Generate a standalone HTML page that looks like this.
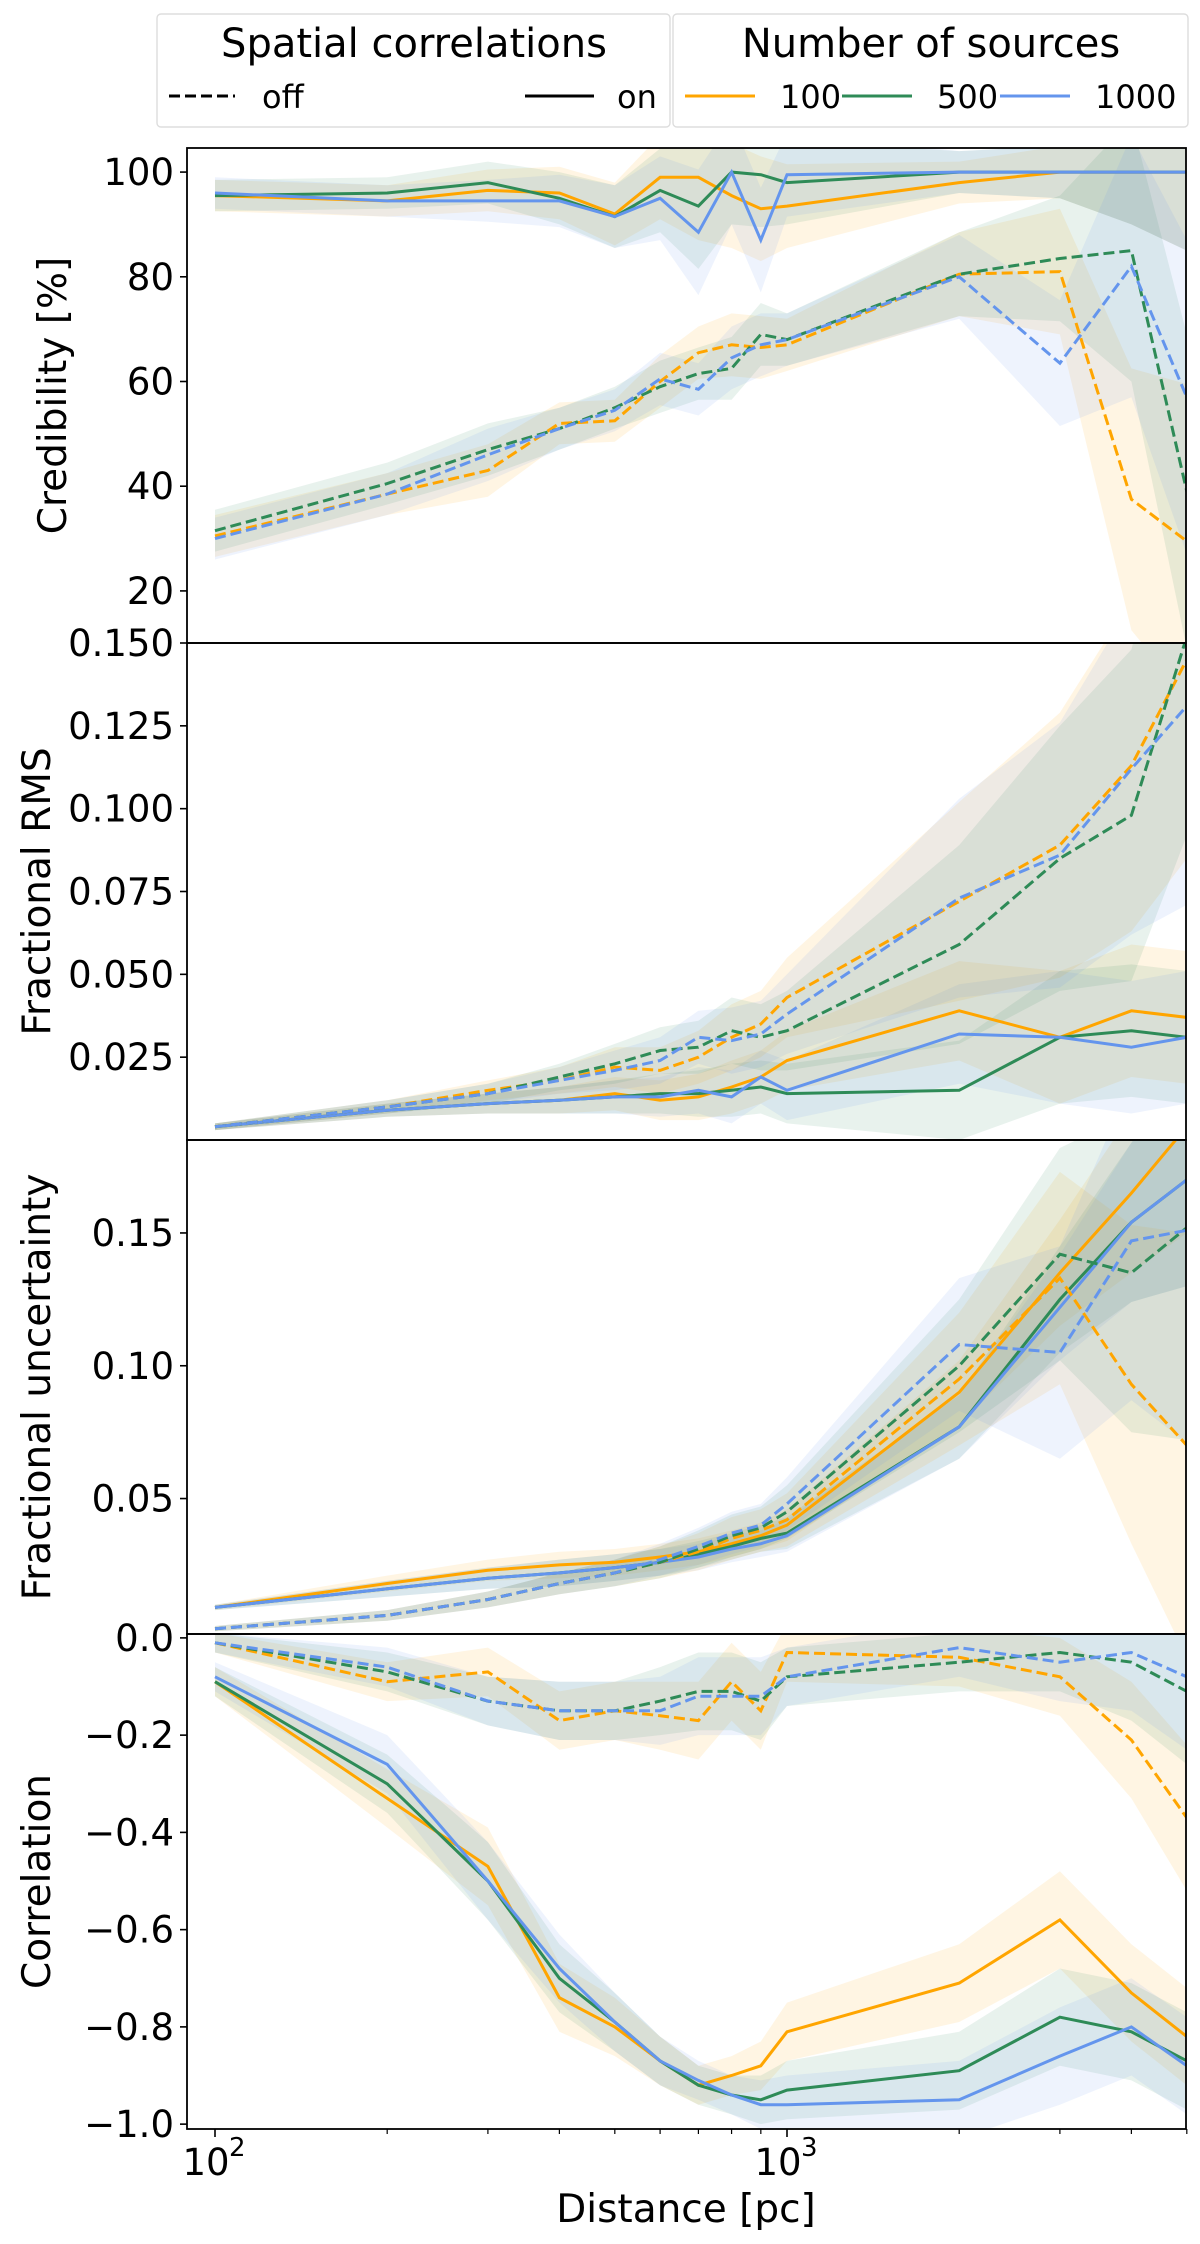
<!DOCTYPE html>
<html><head><meta charset="utf-8"><style>
html,body{margin:0;padding:0;background:#fff;}
svg{display:block;font-family:"DejaVu Sans","Liberation Sans",sans-serif;}
</style></head><body>
<svg id="chart" width="1200" height="2244" viewBox="0 0 1200 2244"></svg>
<script>
const distances=[100,200,300,400,500,600,700,800,900,1000,2000,3000,4000,5000];
// Panel 1: Credibility
const credOn100=[95.5,94.5,96.5,96,92,99,99,95.5,93,93.5,98,100,100,100];
const credOn500=[95.5,96,98,95,91.5,96.5,93.5,100,99.5,98,100,100,100,100];
const credOn1000=[96,94.5,94.5,94.5,91.5,95,88.5,100,87,99.5,100,100,100,100];
const credOff100=[30.5,38.5,43,52,52.5,60,65.5,67,66.5,67,80.5,81,37.5,29.5];
const credOff500=[31.5,40.5,47,51,55,59,61.5,62.5,69,68,80.5,83.5,85,39];
const credOff1000=[30,38.5,46,51,54.5,60.5,58.5,64.5,67,68,80,63.5,82,57];
const credBandOn=[3,3,4,5,6,8,12,10,10,8,4,5,10,15];
const credBandOff=[4,4,5,4,4,5,5,6,6,5,8,12,25,30];
// Panel 2: Fractional RMS
const rmsOff100=[0.004,0.010,0.015,0.018,0.022,0.021,0.025,0.031,0.035,0.043,0.072,0.089,0.113,0.145];
const rmsOff500=[0.004,0.010,0.014,0.019,0.023,0.027,0.028,0.033,0.031,0.033,0.059,0.085,0.098,0.152];
const rmsOff1000=[0.004,0.010,0.014,0.018,0.021,0.024,0.031,0.030,0.032,0.038,0.073,0.086,0.112,0.131];
const rmsOn100=[0.004,0.009,0.011,0.012,0.014,0.012,0.013,0.016,0.019,0.024,0.039,0.031,0.039,0.037];
const rmsOn500=[0.004,0.009,0.011,0.012,0.013,0.014,0.014,0.015,0.016,0.014,0.015,0.031,0.033,0.031];
const rmsOn1000=[0.004,0.009,0.011,0.012,0.013,0.013,0.015,0.013,0.019,0.015,0.032,0.031,0.028,0.031];
const rmsBandOn=[0.001,0.002,0.003,0.004,0.005,0.006,0.007,0.008,0.008,0.009,0.015,0.02,0.02,0.02];
const rmsBandOff=[0.001,0.002,0.003,0.004,0.006,0.007,0.008,0.01,0.01,0.012,0.03,0.04,0.05,0.06];
// Panel 3: Fractional uncertainty
const uncOn100=[0.009,0.018,0.023,0.025,0.026,0.028,0.030,0.033,0.036,0.040,0.090,0.135,0.165,0.19];
const uncOn500=[0.009,0.016,0.020,0.022,0.024,0.026,0.029,0.032,0.035,0.037,0.077,0.125,0.154,0.17];
const uncOn1000=[0.009,0.016,0.020,0.022,0.024,0.026,0.028,0.031,0.033,0.036,0.077,0.122,0.154,0.17];
const uncOff100=[0.001,0.006,0.012,0.018,0.022,0.026,0.030,0.035,0.038,0.042,0.095,0.133,0.093,0.070];
const uncOff500=[0.001,0.006,0.012,0.018,0.022,0.026,0.031,0.036,0.039,0.045,0.100,0.142,0.135,0.152];
const uncOff1000=[0.001,0.006,0.012,0.018,0.022,0.027,0.032,0.037,0.040,0.048,0.108,0.105,0.147,0.151];
const uncBandOn=[0.001,0.003,0.004,0.005,0.005,0.005,0.005,0.005,0.005,0.006,0.012,0.02,0.03,0.04];
const uncBandOff=[0.001,0.002,0.003,0.004,0.005,0.006,0.007,0.008,0.008,0.01,0.025,0.04,0.06,0.08];
// Panel 4: Correlation
const corOff100=[-0.01,-0.09,-0.07,-0.17,-0.15,-0.16,-0.17,-0.09,-0.15,-0.03,-0.04,-0.08,-0.21,-0.37];
const corOff500=[-0.01,-0.07,-0.13,-0.15,-0.15,-0.13,-0.11,-0.11,-0.13,-0.08,-0.05,-0.03,-0.05,-0.11];
const corOff1000=[-0.01,-0.06,-0.13,-0.15,-0.15,-0.15,-0.12,-0.12,-0.12,-0.08,-0.02,-0.05,-0.03,-0.08];
const corOn100=[-0.09,-0.33,-0.47,-0.74,-0.80,-0.87,-0.92,-0.90,-0.88,-0.81,-0.71,-0.58,-0.73,-0.82];
const corOn500=[-0.09,-0.30,-0.50,-0.70,-0.79,-0.87,-0.92,-0.94,-0.95,-0.93,-0.89,-0.78,-0.81,-0.87];
const corOn1000=[-0.08,-0.26,-0.50,-0.68,-0.79,-0.87,-0.91,-0.94,-0.96,-0.96,-0.95,-0.86,-0.80,-0.88];
const corBandOn=[0.03,0.06,0.08,0.07,0.06,0.05,0.04,0.04,0.05,0.06,0.08,0.1,0.1,0.1];
const corBandOff=[0.02,0.04,0.05,0.06,0.06,0.07,0.08,0.08,0.08,0.06,0.06,0.08,0.12,0.15];

const ticks1=[20,40,60,80,100];
const ticks2=[0.025,0.050,0.075,0.100,0.125,0.150];
const ticks2Labels=["0.025","0.050","0.075","0.100","0.125","0.150"];
const ticks3=[0.05,0.10,0.15];
const ticks3Labels=["0.05","0.10","0.15"];
const ticks4=[0,-0.2,-0.4,-0.6,-0.8,-1.0];
const ticks4Labels=["0.0","\u22120.2","\u22120.4","\u22120.6","\u22120.8","\u22121.0"];

const NS="http://www.w3.org/2000/svg";
const svg=document.getElementById('chart');
const L=187,R=1186;
const X0=215,DEC=572;
function xs(v){return X0+DEC*Math.log10(v/100);}
function mk(tag,attrs,parent){const e=document.createElementNS(NS,tag);for(const k in attrs)e.setAttribute(k,attrs[k]);(parent||svg).appendChild(e);return e;}
const COL={o:'#FFA500',g:'#2E8B57',b:'#6495ED'};
const TF=37;

const panels=[
 {name:'credibility',top:148,bot:643,ymin:10.05,ymax:104.6,ticks:ticks1,labels:ticks1.map(String),ylab:'Credibility [%]',labx:66,
  series:[[credOn100,credBandOn,'o',0],[credOn500,credBandOn,'g',0],[credOn1000,credBandOn,'b',0],[credOff100,credBandOff,'o',1],[credOff500,credBandOff,'g',1],[credOff1000,credBandOff,'b',1]]},
 {name:'fractional-rms',top:643,bot:1140,ymin:0,ymax:0.15,ticks:ticks2,labels:ticks2Labels,ylab:'Fractional RMS',labx:50,
  series:[[rmsOn100,rmsBandOn,'o',0],[rmsOn500,rmsBandOn,'g',0],[rmsOn1000,rmsBandOn,'b',0],[rmsOff100,rmsBandOff,'o',1],[rmsOff500,rmsBandOff,'g',1],[rmsOff1000,rmsBandOff,'b',1]]},
 {name:'fractional-uncertainty',top:1140,bot:1634,ymin:-0.001,ymax:0.185,ticks:ticks3,labels:ticks3Labels,ylab:'Fractional uncertainty',labx:50,
  series:[[uncOn100,uncBandOn,'o',0],[uncOn500,uncBandOn,'g',0],[uncOn1000,uncBandOn,'b',0],[uncOff100,uncBandOff,'o',1],[uncOff500,uncBandOff,'g',1],[uncOff1000,uncBandOff,'b',1]]},
 {name:'correlation',top:1634,bot:2129,ymin:-1.01,ymax:0.008,ticks:ticks4,labels:ticks4Labels,ylab:'Correlation',labx:50,
  series:[[corOn100,corBandOn,'o',0],[corOn500,corBandOn,'g',0],[corOn1000,corBandOn,'b',0],[corOff100,corBandOff,'o',1],[corOff500,corBandOff,'g',1],[corOff1000,corBandOff,'b',1]]}
];

const defs=mk('defs',{});
panels.forEach((p,i)=>{
 const ys=v=>p.bot-(v-p.ymin)/(p.ymax-p.ymin)*(p.bot-p.top);
 const cp=mk('clipPath',{id:'clip'+i},defs);
 mk('rect',{x:L,y:p.top,width:R-L,height:p.bot-p.top},cp);
 const g=mk('g',{'clip-path':'url(#clip'+i+')'});
 
 
 p.series.forEach(s=>{
  const [vals,band,c]=s;
  let d='';
  distances.forEach((x,k)=>{d+=(k?'L':'M')+xs(x).toFixed(1)+','+ys(vals[k]+band[k]).toFixed(1);});
  for(let k=distances.length-1;k>=0;k--)d+='L'+xs(distances[k]).toFixed(1)+','+ys(vals[k]-band[k]).toFixed(1);
  const e=mk('path',{d:d+'Z',fill:COL[c],'fill-opacity':0.11,stroke:'none'},g);
  
  
 });
 p.series.forEach(s=>{
  const [vals,band,c,dash]=s;
  const pts=distances.map((x,k)=>xs(x).toFixed(1)+','+ys(vals[k]).toFixed(1)).join(' ');
  const e=mk('polyline',{points:pts,fill:'none',stroke:COL[c],'stroke-width':3,'stroke-dasharray':dash?'11,5':'none'},g);
  
  
 });
 const fr=mk('rect',{x:L,y:p.top,width:R-L,height:p.bot-p.top,fill:'none',stroke:'#000','stroke-width':1.8});
 
 
 p.ticks.forEach((t,k)=>{
  const y=ys(t);
  mk('line',{x1:L-7,x2:L,y1:y,y2:y,stroke:'#000','stroke-width':1.6});
  const tx=mk('text',{x:L-13,y:y+13,'text-anchor':'end','font-size':TF,fill:'#000'});
  tx.textContent=p.labels[k];
  
  
 });
 const cy=(p.top+p.bot)/2;
 const yl=mk('text',{x:p.labx,y:cy,'text-anchor':'middle','font-size':39,transform:'rotate(-90 '+p.labx+' '+cy+')'});
 yl.textContent=p.ylab;
 
 
});
const minorX=[200,300,400,500,600,700,800,900,2000,3000,4000,5000];
const botY=2129;
[100,1000].forEach(v=>{mk('line',{x1:xs(v),x2:xs(v),y1:botY,y2:botY+8,stroke:'#000','stroke-width':1.6});});
minorX.forEach(v=>{mk('line',{x1:xs(v),x2:xs(v),y1:botY,y2:botY+5,stroke:'#000','stroke-width':1.2});});
[[100,'2'],[1000,'3']].forEach(([v,e])=>{
 const t=mk('text',{x:xs(v)-9,y:2175,'text-anchor':'middle','font-size':TF});
 t.textContent='10';
 
 
 const s=mk('text',{x:xs(v)+14,y:2156,'font-size':26});
 s.textContent=e;
});
const xl=mk('text',{x:686,y:2222,'text-anchor':'middle','font-size':39});
xl.textContent='Distance [pc]';



function legendBox(x,w,name){const r=mk('rect',{x:x,y:14,width:w,height:113,rx:4,fill:'#fff',stroke:'#ddd','stroke-width':1.4});}
legendBox(157,513,'legend-spatial-correlations');
legendBox(673,515,'legend-number-of-sources');
function txt(x,y,s,size,anchor,name){const t=mk('text',{x:x,y:y,'font-size':size,'text-anchor':anchor||'start'});t.textContent=s;return t;}
txt(414,57,'Spatial correlations',40,'middle','legend-title-spatial');
txt(931,57,'Number of sources',40,'middle','legend-title-sources');
mk('line',{x1:169,x2:235,y1:96,y2:96,stroke:'#000','stroke-width':3,'stroke-dasharray':'11,5'});
txt(262,108,'off',32,'start','legend-entry-off');
mk('line',{x1:525,x2:594,y1:96,y2:96,stroke:'#000','stroke-width':3});
txt(617,108,'on',32,'start','legend-entry-on');
[[685,'o','100'],[842,'g','500'],[1000,'b','1000']].forEach(([x,c,l])=>{
 mk('line',{x1:x,x2:x+70,y1:96,y2:96,stroke:COL[c],'stroke-width':3});
 txt(x+95,108,l,32,'start','legend-entry-'+l);
});
</script>
</body></html>
